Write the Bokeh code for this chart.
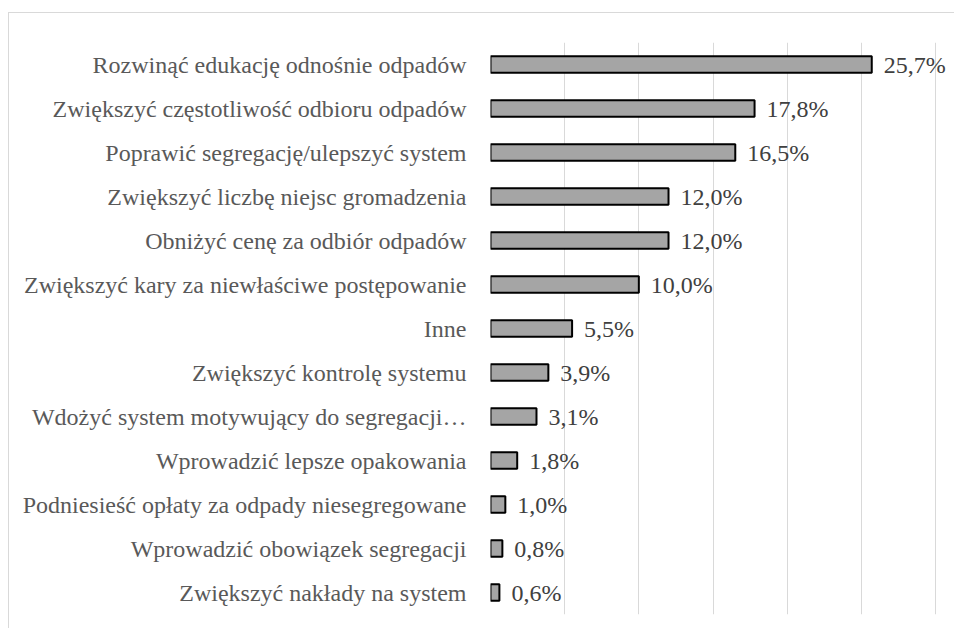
from bokeh.plotting import figure
from bokeh.embed import file_html
from bokeh.resources import INLINE
from bokeh.models import ColumnDataSource, FixedTicker
from bokeh.core.properties import value

categories = [
    "Rozwinąć edukację odnośnie odpadów",
    "Zwiększyć częstotliwość odbioru odpadów",
    "Poprawić segregację/ulepszyć system",
    "Zwiększyć liczbę niejsc gromadzenia",
    "Obniżyć cenę za odbiór odpadów",
    "Zwiększyć kary za niewłaściwe postępowanie",
    "Inne",
    "Zwiększyć kontrolę systemu",
    "Wdożyć system motywujący do segregacji…",
    "Wprowadzić lepsze opakowania",
    "Podniesieść opłaty za odpady niesegregowane",
    "Wprowadzić obowiązek segregacji",
    "Zwiększyć nakłady na system",
]
values = [25.7, 17.8, 16.5, 12.0, 12.0, 10.0, 5.5, 3.9, 3.1, 1.8, 1.0, 0.8, 0.6]
labels = [f"{v:.1f}%".replace(".", ",") for v in values]
x_ticks = [0, 5, 10, 15, 20, 25, 30]

FONT = "Liberation Serif"

src = ColumnDataSource(dict(cat=categories, val=values, lab=labels))

p = figure(
    y_range=list(reversed(categories)),
    x_range=(0, 31.21),
    width=946, height=616,
    output_backend="svg", toolbar_location=None,
    min_border_left=481, min_border_right=2, min_border_top=29, min_border_bottom=15,
)
p.styles = {
    "margin-left": "8px",
    "margin-top": "12px",
    "border-top": "1px solid #d9d9d9",
    "border-left": "1px solid #d9d9d9",
}
p.outline_line_color = None
p.y_range.range_padding = 0

p.hbar(y="cat", right="val", left=0, height=0.37, source=src,
       fill_color="#a5a5a5", line_color="#000000", line_width=2)

p.text(x="val", y="cat", text="lab", source=src, x_offset=12,
       text_baseline="middle", text_align="left",
       text_font=value(FONT), text_font_size="24px",
       text_color="#404040")

p.xaxis.visible = False
p.xaxis.ticker = FixedTicker(ticks=x_ticks)
p.xgrid.ticker = FixedTicker(ticks=x_ticks)
p.xgrid.grid_line_color = "#d9d9d9"
p.xgrid.grid_line_width = 1
p.ygrid.grid_line_color = None

yax = p.yaxis[0]
yax.axis_line_color = None
yax.major_tick_line_color = None
yax.minor_tick_line_color = None
yax.major_label_standoff = 18
yax.major_label_text_font = FONT
yax.major_label_text_font_size = "24px"
yax.major_label_text_color = "#595959"

open("out.html", "w").write(file_html(p, INLINE))
